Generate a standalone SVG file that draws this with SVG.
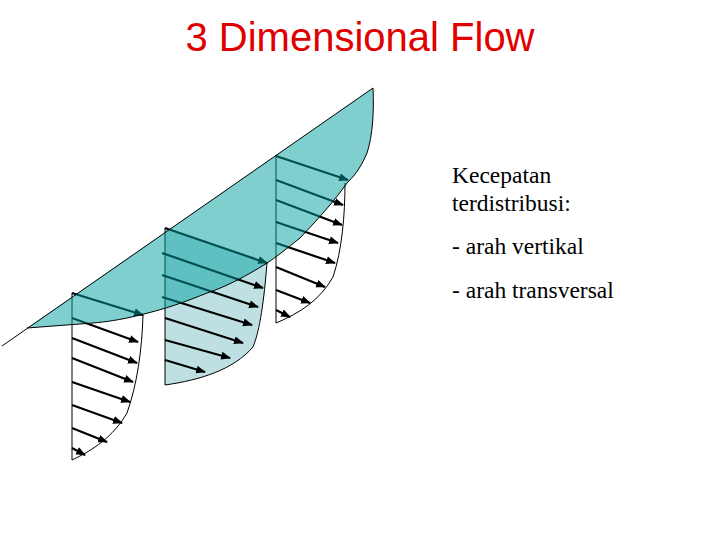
<svg xmlns="http://www.w3.org/2000/svg" width="720" height="540" viewBox="0 0 720 540">
<defs>
<marker id="ah" viewBox="0 0 10 10" refX="9" refY="5" markerWidth="4.5" markerHeight="4.5" orient="auto" markerUnits="strokeWidth"><path d="M0,1 L10,5 L0,9 z" fill="#000"/></marker>
<style>
.ar{stroke:#000;stroke-width:2.2;fill:none;marker-end:url(#ah)}
.ln{stroke:#000;stroke-width:1;fill:none}
.tx{font-family:"Liberation Serif",serif;font-size:23.5px;fill:#000}
</style>
</defs>
<rect width="720" height="540" fill="#fff"/>
<text x="360" y="51" text-anchor="middle" font-family="Liberation Sans,Arial,sans-serif" font-size="40" fill="#e00000">3 Dimensional Flow</text>
<g id="panel-middle">
<path d="M165,228 L165,385 C200,380 233,370 253,347 C263,313 266,290 267,263 Z" fill="#bfe0e2"/>
<path class="ln" d="M165,228 L165,385 C200,380 233,370 253,347 C260,330 264,300 267,263"/>
</g>
<g id="panel-left">
<path class="ln" d="M72,293 L72,460 C93,450 113,437 127,413 C137,385 142,350 143,315"/>
</g>
<g id="panel-right">
<path class="ln" d="M276,155 L276,323 C300,313 320,300 333,277 C342,250 345,215 345,183"/>
</g>
<g id="connectors">
<line class="ar" x1="72" y1="293" x2="143" y2="315"/>
<line class="ar" x1="72" y1="318" x2="138" y2="342"/>
<line class="ar" x1="72" y1="338" x2="137" y2="363"/>
<line class="ar" x1="72" y1="358" x2="133" y2="382"/>
<line class="ar" x1="72" y1="382" x2="130" y2="402"/>
<line class="ar" x1="72" y1="405" x2="122" y2="423"/>
<line class="ar" x1="72" y1="428" x2="107" y2="442"/>
<line class="ar" x1="72" y1="448" x2="85" y2="455"/>
<line class="ar" x1="165" y1="228" x2="267" y2="263"/>
<line class="ar" x1="162" y1="253" x2="263" y2="288"/>
<line class="ar" x1="162" y1="275" x2="258" y2="307"/>
<line class="ar" x1="162" y1="297" x2="252" y2="325"/>
<line class="ar" x1="165" y1="318" x2="243" y2="343"/>
<line class="ar" x1="165" y1="340" x2="230" y2="358"/>
<line class="ar" x1="165" y1="360" x2="205" y2="372"/>
<line class="ar" x1="276" y1="156" x2="348" y2="180"/>
<line class="ar" x1="276" y1="180" x2="343" y2="205"/>
<line class="ar" x1="276" y1="200" x2="342" y2="225"/>
<line class="ar" x1="276" y1="222" x2="338" y2="243"/>
<line class="ar" x1="276" y1="243" x2="335" y2="263"/>
<line class="ar" x1="276" y1="267" x2="325" y2="287"/>
<line class="ar" x1="276" y1="290" x2="310" y2="303"/>
<line class="ar" x1="276" y1="310" x2="290" y2="317"/>
</g>
<g id="surface">
<path d="M27,328 L373,88 C374,110 373,135 367,153 C360,170 352,178 347,183 C335,200 320,217 300,238 C285,250 275,258 267,263 C245,277 225,287 207,293 C185,302 165,309 140,315 C120,320 105,322 93,323 Z" fill="#00a0a0" fill-opacity="0.5"/>
<path class="ln" d="M373,88 C374,110 373,135 367,153 C360,170 352,178 347,183 C335,200 320,217 300,238 C285,250 275,258 267,263 C245,277 225,287 207,293 C185,302 165,309 140,315 C120,320 105,322 93,323 L27,328" stroke-width="0.8"/>
<line class="ln" x1="2" y1="346" x2="373" y2="88"/>
</g>
<g id="label">
<text class="tx" x="452" y="183">Kecepatan</text>
<text class="tx" x="452" y="211">terdistribusi:</text>
<text class="tx" x="452" y="254">- arah vertikal</text>
<text class="tx" x="452" y="298">- arah transversal</text>
</g>
</svg>
